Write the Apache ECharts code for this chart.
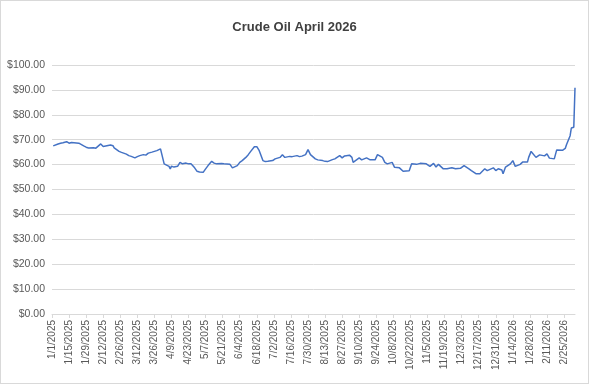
<!DOCTYPE html>
<html>
<head>
<meta charset="utf-8">
<script src="https://cdn.jsdelivr.net/npm/echarts@6/dist/echarts.min.js"></script>
<style>
html,body{margin:0;padding:0;background:#fff;}
#chart{width:587px;height:382px;border:1px solid #d9d9d9;}
</style>
</head>
<body>
<div id="chart"></div>
<script>
// Axis range (daily categories)
const startDate = '1/1/2025';
const endDate = '3/6/2026';

const obsDates = [
 '1/2/2025','1/3/2025','1/6/2025','1/8/2025','1/10/2025','1/13/2025','1/15/2025','1/17/2025','1/21/2025','1/23/2025',
 '1/27/2025','1/29/2025','1/31/2025','2/4/2025','2/6/2025','2/10/2025','2/12/2025','2/14/2025','2/18/2025','2/20/2025',
 '2/21/2025','2/25/2025','2/27/2025','3/3/2025','3/5/2025','3/7/2025','3/10/2025','3/12/2025','3/14/2025','3/17/2025',
 '3/19/2025','3/21/2025','3/24/2025','3/26/2025','3/28/2025','3/31/2025','4/1/2025','4/3/2025','4/4/2025','4/7/2025',
 '4/8/2025','4/9/2025','4/11/2025','4/14/2025','4/16/2025','4/18/2025','4/21/2025','4/23/2025','4/25/2025','4/28/2025',
 '4/30/2025','5/2/2025','5/5/2025','5/7/2025','5/9/2025','5/12/2025','5/14/2025','5/16/2025','5/20/2025','5/22/2025',
 '5/27/2025','5/29/2025','6/2/2025','6/4/2025','6/6/2025','6/9/2025','6/11/2025','6/13/2025','6/16/2025','6/18/2025',
 '6/20/2025','6/23/2025','6/25/2025','6/27/2025','7/1/2025','7/3/2025','7/7/2025','7/9/2025','7/11/2025','7/15/2025',
 '7/17/2025','7/21/2025','7/23/2025','7/25/2025','7/28/2025','7/30/2025','8/1/2025','8/5/2025','8/7/2025','8/11/2025',
 '8/13/2025','8/15/2025','8/19/2025','8/21/2025','8/25/2025','8/27/2025','8/29/2025','9/2/2025','9/4/2025','9/5/2025',
 '9/10/2025','9/12/2025','9/16/2025','9/17/2025','9/19/2025','9/23/2025','9/25/2025','9/29/2025','10/1/2025','10/3/2025',
 '10/7/2025','10/9/2025','10/13/2025','10/16/2025','10/21/2025','10/23/2025','10/27/2025','10/30/2025','11/4/2025','11/7/2025',
 '11/10/2025','11/12/2025','11/14/2025','11/18/2025','11/21/2025','11/25/2025','11/28/2025','12/2/2025','12/5/2025','12/9/2025',
 '12/11/2025','12/15/2025','12/16/2025','12/18/2025','12/22/2025','12/24/2025','12/29/2025','12/31/2025','1/2/2026','1/5/2026',
 '1/6/2026','1/8/2026','1/12/2026','1/14/2026','1/16/2026','1/20/2026','1/22/2026','1/26/2026','1/27/2026','1/29/2026',
 '2/2/2026','2/3/2026','2/5/2026','2/9/2026','2/11/2026','2/13/2026','2/17/2026','2/18/2026','2/19/2026','2/20/2026',
 '2/24/2026','2/25/2026','2/26/2026','2/27/2026','3/2/2026','3/3/2026','3/4/2026','3/5/2026','3/6/2026'
];
const prices = [
 67.5,67.9,68.3,68.6,68.8,69.2,68.6,68.9,68.7,68.6,
 67.5,67.0,66.7,66.8,66.6,68.3,67.3,67.5,67.9,67.6,
 66.7,65.3,64.9,64.2,63.6,63.3,62.7,63.2,63.6,64.0,
 63.8,64.6,65.0,65.3,65.6,66.3,66.7,60.3,59.6,59.3,
 58.3,59.4,59.0,59.3,60.9,60.3,60.6,60.3,60.3,58.7,
 57.3,57.0,56.9,58.3,59.6,61.3,60.6,60.3,60.4,60.3,
 60.1,58.7,59.6,60.9,61.6,62.9,64.0,65.3,67.2,67.2,
 65.6,61.6,61.2,61.3,61.6,62.3,62.9,64.0,62.9,63.3,
 63.2,63.6,63.2,63.4,64.0,66.0,64.0,62.3,61.9,61.6,
 61.3,61.2,62.0,62.3,63.6,62.7,63.5,63.8,62.9,60.9,
 62.7,61.9,62.7,63.3,61.9,61.9,64.0,62.9,60.9,60.3,
 60.9,58.9,58.7,57.3,57.5,60.3,60.1,60.5,60.3,59.3,
 60.5,59.0,60.1,58.3,58.3,58.7,58.3,58.5,59.6,58.3,
 57.6,56.3,55.6,56.3,58.3,57.6,58.7,57.6,58.3,57.8,
 56.3,59.0,60.3,61.6,59.3,60.1,61.0,61.0,62.9,65.3,
 62.9,62.3,63.9,63.5,64.3,62.6,62.3,62.5,65.9,66.4,
 65.8,65.3,66.5,68.0,71.6,74.7,74.7,75.0,90.9
];

// Y-axis ticks
const yMin = 0, yMax = 100, yStep = 10;

function parseMDY(s){const p=s.split('/').map(Number);return Date.UTC(p[2],p[0]-1,p[1]);}
function fmt(t){const d=new Date(t);return (d.getUTCMonth()+1)+'/'+d.getUTCDate()+'/'+d.getUTCFullYear();}

const categories=[];
for(let t=parseMDY(startDate);t<=parseMDY(endDate);t+=86400000){categories.push(fmt(t));}
const seriesData=categories.map(()=>null);
obsDates.forEach((d,i)=>{const idx=categories.indexOf(d);if(idx>=0)seriesData[idx]=prices[i];});

const chart=echarts.init(document.getElementById('chart'),null,{renderer:'canvas'});
chart.setOption({
  animation:false,
  backgroundColor:'#ffffff',
  title:{
    text:'Crude Oil April 2026',
    left:'center',top:15,
    textStyle:{fontFamily:'Liberation Sans',fontSize:13,fontWeight:'bold',color:'#404040'}
  },
  grid:{left:51,right:13,top:64,bottom:69,containLabel:false},
  xAxis:{
    type:'category',
    data:categories,
    boundaryGap:false,
    axisLine:{lineStyle:{color:'#d9d9d9',width:1}},
    axisTick:{show:true,interval:13,length:4,lineStyle:{color:'#d9d9d9'}},
    axisLabel:{interval:13,rotate:90,fontFamily:'Liberation Sans',fontSize:10,color:'#595959',margin:6},
    splitLine:{show:false}
  },
  yAxis:{
    type:'value',
    min:yMin,max:yMax,interval:yStep,
    axisLine:{show:false},
    axisTick:{show:false},
    axisLabel:{formatter:v=>'$'+v.toFixed(2),fontFamily:'Liberation Sans',fontSize:10.5,color:'#595959',margin:7},
    splitLine:{lineStyle:{color:'#d9d9d9',width:1}}
  },
  series:[{
    type:'line',
    data:seriesData,
    connectNulls:true,
    showSymbol:false,
    symbol:'none',
    lineStyle:{color:'#4472C4',width:1.5},
    itemStyle:{color:'#4472C4'}
  }]
});
</script>
</body>
</html>
